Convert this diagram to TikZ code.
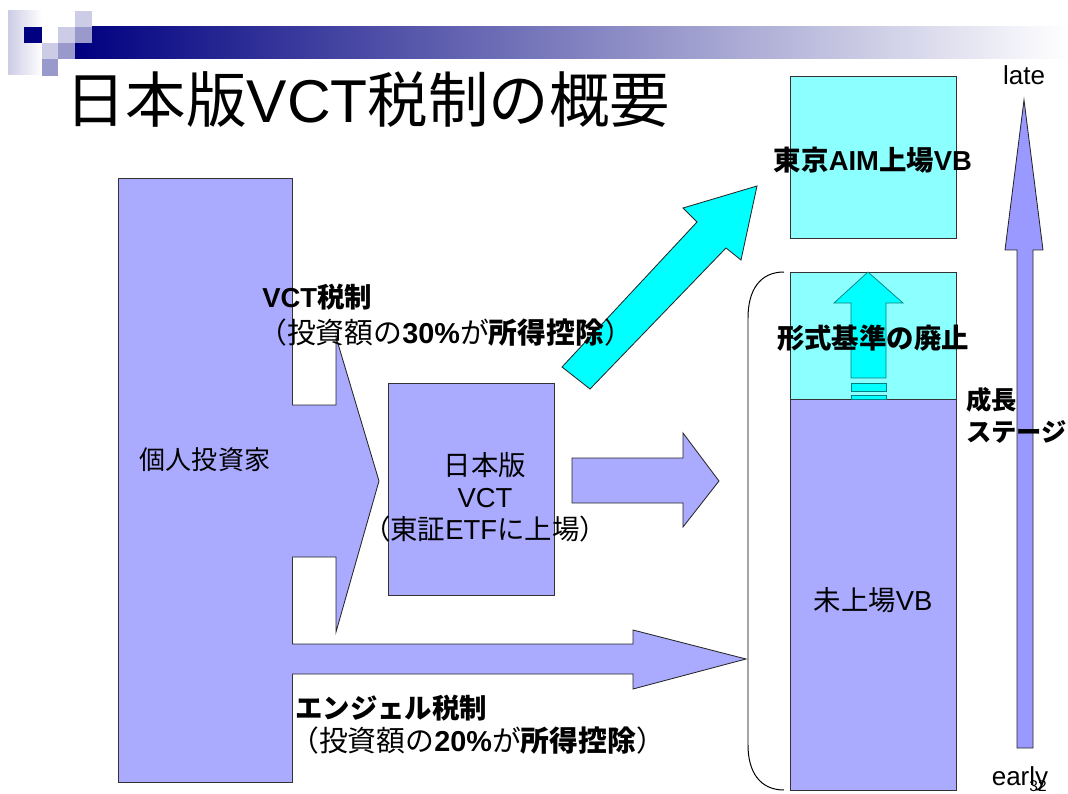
\documentclass[tikz,border=0pt]{standalone}
\usepackage{fontspec}
\setmainfont{Noto Sans CJK JP}
\newfontfamily\lat{Liberation Sans}
\usepackage{tikz}
\usetikzlibrary{shapes}
\definecolor{vblue}{RGB}{170,170,255}
\definecolor{vbluedark}{RGB}{153,153,255}
\definecolor{vcyan}{RGB}{0,255,255}
\definecolor{vcyanlight}{RGB}{140,255,255}
\definecolor{vteal}{RGB}{0,128,128}
\definecolor{navy}{RGB}{0,0,128}
\definecolor{sqlight}{RGB}{204,204,230}
\definecolor{sqmid}{RGB}{153,153,204}
\tikzstyle{box} = [draw=black!80, fill=vblue, line width=0.6pt]
\tikzstyle{cbox} = [box, fill=vcyanlight]
\tikzstyle{blockarrow} = [draw=black!85, fill=vblue, line width=0.6pt,
line join=miter]
\tikzstyle{txt} = [inner sep=0pt, font=\fontsize{18.5}{22.7}\selectfont]
\tikzstyle{rtxt} = [txt, font=\fontsize{20.5}{24}\selectfont]
\tikzstyle{btxt} = [inner sep=0pt, font=\fontsize{19.5}{24}\selectfont\bfseries]

\begin{document}
\begin{tikzpicture}[x=0.025cm,y=-0.025cm]

	\useasboundingbox (0,0) rectangle (1068,794);

	% slide header
	\shade[left color=navy, right color=white] (75,27) rectangle (1068,59);
	\shade[left color=sqlight, right color=white] (8,11) rectangle (42,75);
	\fill[navy] (24,27) rectangle (42,43);
	\fill[sqlight] (42,43) rectangle (58,59);
	\fill[sqmid] (58,43) rectangle (75,59);
	\fill[sqmid] (42,59) rectangle (58,76);
	\fill[sqlight] (58,27) rectangle (75,43);
	\fill[sqmid] (75,27) rectangle (92,43);
	\fill[sqlight] (75,11) rectangle (92,27);

	\node[anchor=west, inner sep=0pt, font=\fontsize{43}{50}\selectfont]
	  (title) at (65,100) {日本版{\lat VCT}税制の概要};

	% investors and the two tax routes
	\draw[box] (118,178) rectangle (292,782);
	\fill[vblue] (290,405) -- (336,405) -- (336,337) -- (379,481)
	  -- (336,632) -- (336,557) -- (290,557) -- cycle;
	\draw[black!85, line width=0.6pt, line join=miter] (292,405) -- (336,405)
	  -- (336,337) -- (379,481) -- (336,632) -- (336,557) -- (292,557);
	\fill[vblue] (290,644) -- (633,644) -- (633,630) -- (746,659)
	  -- (633,689) -- (633,674) -- (290,674) -- cycle;
	\draw[black!85, line width=0.6pt, line join=miter] (292,644) -- (633,644)
	  -- (633,630) -- (746,659) -- (633,689) -- (633,674) -- (292,674);

	\draw[box] (388,383) rectangle (554,595);
	\draw[blockarrow] (572,458) -- (683,458) -- (683,433) -- (719,481)
	  -- (683,527) -- (683,503) -- (572,503) -- cycle;
	\draw[blockarrow, fill=vcyan] (562,367) -- (697,222) -- (683,208)
	  -- (757,186) -- (741,260) -- (726,248) -- (590,389) -- cycle;

	% venture businesses by stage
	\draw[cbox] (790,76) rectangle (956,238);
	\draw[cbox] (790,272) rectangle (956,399);
	\draw[box] (790,399) rectangle (956,790);
	\draw[fill=vcyan, draw=vteal, line width=0.5pt] (851,378) -- (851,303)
	  -- (834,303) -- (868,272) -- (903,303) -- (886,303) -- (886,378) -- cycle;
	\draw[fill=vcyan, draw=vteal, line width=0.5pt] (851,383) rectangle (886,391);
	\draw[fill=vcyan, draw=vteal, line width=0.5pt] (851,395) rectangle (886,399);
	\draw[black, line width=0.7pt] (784,272) .. controls (760,272) and (748,290)
	  .. (748,318) -- (748,745) .. controls (748,772) and (760,790) .. (784,790);

	\draw[blockarrow, fill=vbluedark] (1017,748) -- (1017,250) -- (1005,250)
	  -- (1024,100) -- (1043,250) -- (1033,250) -- (1033,748) -- cycle;

	% labels
	\node[txt] (investor) at (205,460) {個人投資家};
	\node[txt, align=center, font=\fontsize{19.5}{22.8}\selectfont] (vct) at (485,497)
	  {日本版\\{\lat VCT}\\（東証{\lat ETF}に上場）};
	\node[btxt, anchor=west] (vcttax) at (262,297) {{\lat VCT}税制};
	\node[rtxt, anchor=west] (vctrate) at (258,333)
	  {（投資額の\textbf{\lat 30\%}が\textbf{所得控除}）};
	\node[btxt, anchor=west] (angeltax) at (295,708) {エンジェル税制};
	\node[rtxt, anchor=west] (angelrate) at (290,741)
	  {（投資額の\textbf{\lat 20\%}が\textbf{所得控除}）};
	\node[btxt] (aim) at (873,160) {東京{\lat AIM}上場{\lat VB}};
	\node[btxt] (reform) at (873,338) {形式基準の廃止};
	\node[txt, font=\fontsize{19.5}{24}\selectfont] (unlisted) at (873,600)
	  {未上場{\lat VB}};
	\node[btxt, anchor=west, font=\fontsize{18}{24}\selectfont\bfseries]
	  (growth) at (966,400) {成長};
	\node[btxt, anchor=west, font=\fontsize{18}{24}\selectfont\bfseries]
	  (stage) at (966,432) {ステージ};
	\node[txt, font=\fontsize{18.5}{22.7}\lat] (late) at (1024,75) {late};
	\node[txt, font=\fontsize{18.5}{22.7}\lat] (early) at (1020,779) {early};
	\node[inner sep=0pt, font=\fontsize{11}{12}\lat] (page) at (1038,786) {32};

\end{tikzpicture}
\end{document}
